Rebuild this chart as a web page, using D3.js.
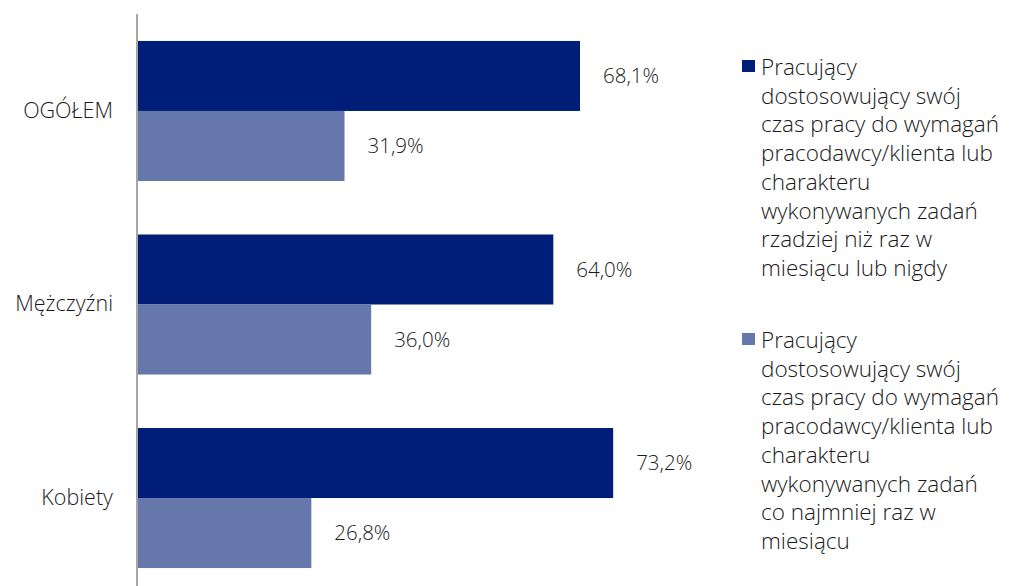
<!DOCTYPE html>
<html>
<head>
<meta charset="utf-8">
<script src="https://cdn.jsdelivr.net/npm/d3@7"></script>
<style>
  body { margin: 0; background: #fff; }
  svg { display: block; font-family: "Open Sans", "Noto Sans", sans-serif; }
</style>
</head>
<body>
<svg width="1016" height="586"></svg>
<script>
var categories = ["OGÓŁEM", "Mężczyźni", "Kobiety"];
var seriesNames = ["rzadko", "czesto"];
var rarelyValues = [68.1, 64.0, 73.2];
var oftenValues = [31.9, 36.0, 26.8];
var legendLines = [
  ["Pracujący", "dostosowujący swój", "czas pracy do wymagań", "pracodawcy/klienta lub",
   "charakteru", "wykonywanych zadań", "rzadziej niż raz w", "miesiącu lub nigdy"],
  ["Pracujący", "dostosowujący swój", "czas pracy do wymagań", "pracodawcy/klienta lub",
   "charakteru", "wykonywanych zadań", "co najmniej raz w", "miesiącu"]
];

var colors = ["#001e78", "#6677ab"];

var svg = d3.select("svg");

let xScale = d3.scaleLinear()
  .domain([0, 100])
  .range([137, 787.5]);

// one band per category, split in two for the series
let yScale = d3.scaleBand()
  .domain(categories)
  .range([14.25, 594.75])
  .paddingInner(0.2765)
  .paddingOuter(0.138);

let subScale = d3.scaleBand()
  .domain(seriesNames)
  .range([0, yScale.bandwidth()]);

let rows = categories.map(function(c, i) {
  return {cat: c, values: [rarelyValues[i], oftenValues[i]]};
});

let fmt = function(v) { return d3.format(".1f")(v).replace(".", ",") + "%"; };

let groups = svg.selectAll("g.cat")
  .data(rows)
  .enter().append("g")
  .attr("class", "cat")
  .attr("transform", function(d) { return "translate(0," + yScale(d.cat) + ")"; });

seriesNames.forEach(function(s, si) {
  groups.append("rect")
    .attr("x", xScale(0))
    .attr("y", subScale(s))
    .attr("width", function(d) { return xScale(d.values[si]) - xScale(0); })
    .attr("height", subScale.bandwidth())
    .style("fill", colors[si]);

  groups.append("text")
    .attr("x", function(d) { return xScale(d.values[si]) + 23; })
    .attr("y", subScale(s) + subScale.bandwidth() / 2)
    .attr("dy", "0.35em")
    .style("font-size", "20.5px")
    .style("font-weight", 300)
    .style("fill", "#1a1a1a")
    .text(function(d) { return fmt(d.values[si]); });
});

// category axis on the left
let yAxis = d3.axisLeft(yScale).tickSize(0).tickPadding(24);
let yGroup = svg.append("g")
  .attr("transform", "translate(" + xScale(0) + ",0)")
  .call(yAxis);
yGroup.select(".domain").remove();
yGroup.selectAll("text")
  .style("font-family", "\"Open Sans\", \"Noto Sans\", sans-serif")
  .style("font-size", "21.5px")
  .style("font-weight", 300)
  .style("fill", "#1a1a1a");

svg.append("line")
  .attr("x1", xScale(0)).attr("x2", xScale(0))
  .attr("y1", 14).attr("y2", 586)
  .style("stroke", "#a6a6a6")
  .style("stroke-width", 2);

// legend
let legendTop = [75, 348];
let legend = svg.selectAll("g.legend")
  .data(legendLines)
  .enter().append("g")
  .attr("class", "legend")
  .attr("transform", function(d, i) { return "translate(742," + legendTop[i] + ")"; });

legend.append("rect")
  .attr("x", 0)
  .attr("y", -15)
  .attr("width", 13)
  .attr("height", 12)
  .style("fill", function(d, i) { return colors[i]; });

legend.append("text")
  .style("font-size", "22.5px")
  .style("font-weight", 300)
  .style("fill", "#1a1a1a")
  .selectAll("tspan")
  .data(function(d) { return d; })
  .enter().append("tspan")
  .attr("x", 19)
  .attr("y", function(d, i) { return i * 28.7; })
  .text(function(d) { return d; });
</script>
</body>
</html>
